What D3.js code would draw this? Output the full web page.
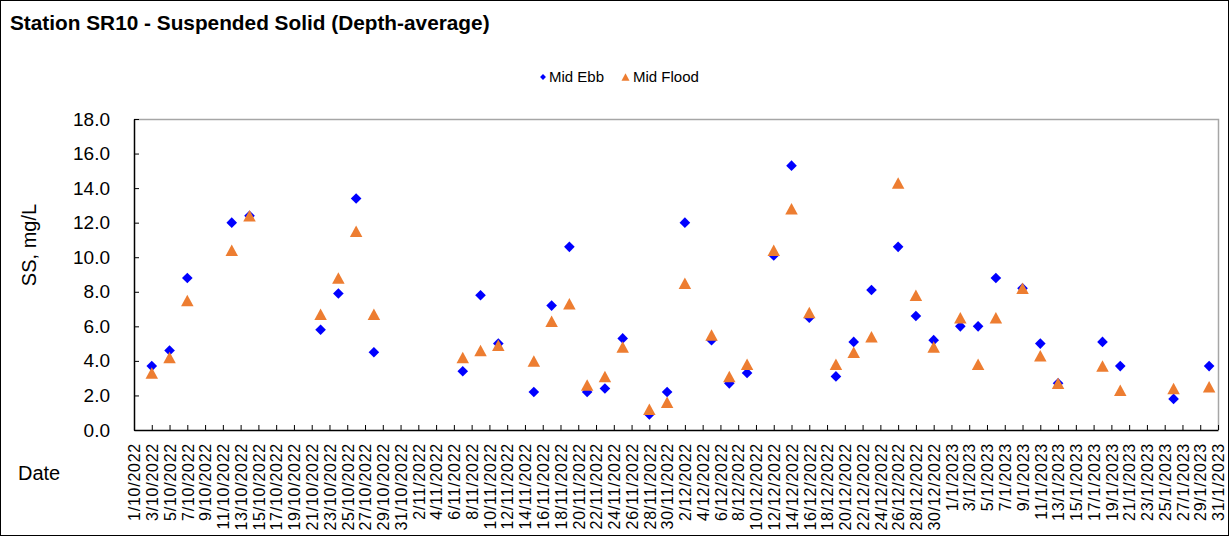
<!DOCTYPE html>
<html>
<head>
<meta charset="utf-8">
<script src="https://cdn.jsdelivr.net/npm/d3@7"></script>
<style>
  html, body { margin: 0; padding: 0; background: #fff; }
  svg { display: block; font-family: "Liberation Sans", Arial, sans-serif; }
</style>
</head>
<body>
<svg id="chart" width="1230" height="537"></svg>
<script>
// ---------------- data ----------------
const chartTitle = "Station SR10 - Suspended Solid (Depth-average)";
const seriesNames = ["Mid Ebb", "Mid Flood"];
const sampleDates = ["3/10/2022","5/10/2022","7/10/2022","12/10/2022","14/10/2022","22/10/2022","24/10/2022","26/10/2022","28/10/2022",
  "7/11/2022","9/11/2022","11/11/2022","15/11/2022","17/11/2022","19/11/2022","21/11/2022","23/11/2022","25/11/2022","28/11/2022","30/11/2022",
  "2/12/2022","5/12/2022","7/12/2022","9/12/2022","12/12/2022","14/12/2022","16/12/2022","19/12/2022","21/12/2022","23/12/2022","26/12/2022","28/12/2022","30/12/2022",
  "2/1/2023","4/1/2023","6/1/2023","9/1/2023","11/1/2023","13/1/2023","18/1/2023","20/1/2023","26/1/2023","30/1/2023"];
const midEbb = [3.7,4.6,8.8,12.0,12.4,5.8,7.9,13.4,4.5,
  3.4,7.8,5.0,2.2,7.2,10.6,2.2,2.4,5.3,0.9,2.2,
  12.0,5.2,2.7,3.3,10.1,15.3,6.5,3.1,5.1,8.1,10.6,6.6,5.2,
  6.0,6.0,8.8,8.2,5.0,2.7,5.1,3.7,1.8,3.7];
const midFlood = [3.3,4.2,7.5,10.4,12.4,6.7,8.8,11.5,6.7,
  4.2,4.6,4.9,4.0,6.3,7.3,2.6,3.1,4.8,1.2,1.6,
  8.5,5.5,3.1,3.8,10.4,12.8,6.8,3.8,4.5,5.4,14.3,7.8,4.8,
  6.5,3.8,6.5,8.2,4.3,2.7,3.7,2.3,2.4,2.5];
const xTickLabels = ["1/10/2022","3/10/2022","5/10/2022","7/10/2022","9/10/2022","11/10/2022","13/10/2022","15/10/2022","17/10/2022","19/10/2022",
  "21/10/2022","23/10/2022","25/10/2022","27/10/2022","29/10/2022","31/10/2022","2/11/2022","4/11/2022","6/11/2022","8/11/2022",
  "10/11/2022","12/11/2022","14/11/2022","16/11/2022","18/11/2022","20/11/2022","22/11/2022","24/11/2022","26/11/2022","28/11/2022",
  "30/11/2022","2/12/2022","4/12/2022","6/12/2022","8/12/2022","10/12/2022","12/12/2022","14/12/2022","16/12/2022","18/12/2022",
  "20/12/2022","22/12/2022","24/12/2022","26/12/2022","28/12/2022","30/12/2022","1/1/2023","3/1/2023","5/1/2023","7/1/2023",
  "9/1/2023","11/1/2023","13/1/2023","15/1/2023","17/1/2023","19/1/2023","21/1/2023","23/1/2023","25/1/2023","27/1/2023",
  "29/1/2023","31/1/2023"];
const yTicks = [0,2,4,6,8,10,12,14,16,18];
const yTitle = "SS, mg/L";
const xTitle = "Date";

// ---------------- layout ----------------
const parse = d3.utcParse("%d/%m/%Y");
const plot = {left: 134, right: 1218, top: 119, bottom: 430};
const svg = d3.select("#chart");

const x = d3.scaleUtc()
  .domain([parse(xTickLabels[0]), parse(xTickLabels[xTickLabels.length - 1])])
  .range([plot.left, plot.right]);
const y = d3.scaleLinear().domain([0, 18]).range([plot.bottom, plot.top]);

// outer border
svg.append("rect").attr("x", 0.5).attr("y", 0.5).attr("width", 1228).attr("height", 535)
  .attr("fill", "#fff").attr("stroke", "#000").attr("stroke-width", 1);

// title
svg.append("text").attr("x", 10).attr("y", 30)
  .attr("font-size", 20.8).attr("font-weight", "bold").attr("fill", "#000")
  .text(chartTitle);

// plot frame (top/right grey)
svg.append("path")
  .attr("d", `M${plot.left},${plot.top + 0.5}H${plot.right + 0.5}V${plot.bottom}`)
  .attr("fill", "none").attr("stroke", "#a6a6a6").attr("stroke-width", 1.5);

// y axis
const yAxis = d3.axisLeft(y).tickValues(yTicks).tickFormat(d3.format(".1f"))
  .tickSizeInner(-5).tickSizeOuter(0).tickPadding(24);
const gy = svg.append("g").attr("transform", `translate(${plot.left},0)`).call(yAxis);
gy.select(".domain").attr("stroke", "#000").attr("stroke-width", 1.5);
gy.selectAll(".tick line").attr("stroke", "#000");
gy.selectAll(".tick text").attr("font-size", 19).attr("fill", "#000")
  .attr("font-family", "'Liberation Sans', Arial, sans-serif");

// x axis
const xTickDates = xTickLabels.map(parse);
const xAxis = d3.axisBottom(x).tickValues(xTickDates)
  .tickFormat((d, i) => xTickLabels[i]).tickSizeInner(-5).tickSizeOuter(0);
const gx = svg.append("g").attr("transform", `translate(0,${plot.bottom})`).call(xAxis);
gx.select(".domain").attr("stroke", "#000").attr("stroke-width", 1.5);
gx.selectAll(".tick line").attr("stroke", "#000");
gx.selectAll(".tick text")
  .attr("font-size", 16).attr("fill", "#000").attr("letter-spacing", "0.75px")
  .attr("font-family", "'Liberation Sans', Arial, sans-serif")
  .attr("text-anchor", "end")
  .attr("transform", "translate(0,13) rotate(-90)")
  .attr("x", 0).attr("y", 0).attr("dy", "0.36em");

// axis titles
svg.append("text").attr("transform", "translate(36,245) rotate(-90)")
  .attr("text-anchor", "middle").attr("font-size", 20).attr("fill", "#000").text(yTitle);
svg.append("text").attr("x", 18).attr("y", 480)
  .attr("font-size", 20).attr("fill", "#000").text(xTitle);

// markers
const diamond = d3.symbol().type(d3.symbolDiamond2).size(72);
const triPath = (w, h) => `M0,${-h / 2}L${w / 2},${h / 2}L${-w / 2},${h / 2}Z`;
const pts = sampleDates.map((d, i) => ({date: parse(d), ebb: midEbb[i], flood: midFlood[i]}));

svg.append("g").selectAll("path").data(pts).join("path")
  .attr("d", diamond)
  .attr("transform", d => `translate(${x(d.date)},${y(d.ebb)})`)
  .attr("fill", "#0000ff");
svg.append("g").selectAll("path").data(pts).join("path")
  .attr("d", triPath(12.5, 11.5))
  .attr("transform", d => `translate(${x(d.date)},${y(d.flood)})`)
  .attr("fill", "#ed7d31");

// legend
const lg = svg.append("g").attr("font-size", 15).attr("fill", "#000");
lg.append("path").attr("d", d3.symbol().type(d3.symbolDiamond2).size(22))
  .attr("transform", "translate(543,77)").attr("fill", "#0000ff");
lg.append("text").attr("x", 549).attr("y", 82).text(seriesNames[0]);
lg.append("path").attr("d", triPath(8, 7.5))
  .attr("transform", "translate(625.5,77)").attr("fill", "#ed7d31");
lg.append("text").attr("x", 633).attr("y", 82).text(seriesNames[1]);
</script>
</body>
</html>
